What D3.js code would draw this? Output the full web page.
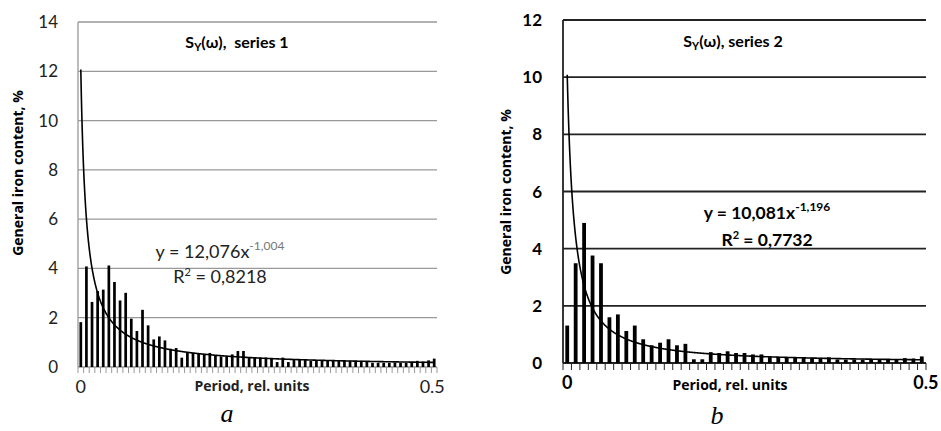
<!DOCTYPE html>
<html>
<head>
<meta charset="utf-8">
<script src="https://cdn.jsdelivr.net/npm/d3@7"></script>
<style>
	body { margin: 0; background: #fff; }
	svg { display: block; }
	text { font-family: Lato, "Open Sans", sans-serif; }
</style>
</head>
<body>
<svg id="chart" width="941" height="431"></svg>
<script>
// series 1 spectrum (64 categories, period 0 .. 0.5)
const series1 = [
	1.82, 4.08, 2.64, 3.08, 3.14, 4.12, 3.45, 2.7, 3.01, 1.96, 1.46, 2.32, 1.69, 1.12, 1.24, 1.08,
	0.74, 0.77, 0.38, 0.57, 0.57, 0.54, 0.51, 0.57, 0.47, 0.43, 0.43, 0.51, 0.65, 0.65, 0.38, 0.38,
	0.38, 0.38, 0.34, 0.2, 0.38, 0.2, 0.3, 0.3, 0.28, 0.25, 0.25, 0.25, 0.25, 0.25, 0.25, 0.25,
	0.25, 0.25, 0.25, 0.22, 0.17, 0.17, 0.17, 0.17, 0.17, 0.17, 0.17, 0.17, 0.25, 0.22, 0.27, 0.34
];
// series 2 spectrum (43 categories)
const series2 = [
	1.31, 3.49, 4.9, 3.76, 3.49, 1.6, 1.7, 1.12, 1.31, 0.83, 0.62, 0.71, 0.83, 0.62, 0.67, 0.13,
	0.13, 0.38, 0.35, 0.41, 0.35, 0.35, 0.3, 0.3, 0.2, 0.2, 0.18, 0.18, 0.2, 0.18, 0.18, 0.2,
	0.12, 0.12, 0.12, 0.12, 0.12, 0.12, 0.12, 0.12, 0.17, 0.16, 0.23
];
// power trendlines y = a * x^b (x = category number)
const trend1 = [12.076, -1.004];
const trend2 = [10.081, -1.196];
const yTicks1 = [0, 2, 4, 6, 8, 10, 12, 14];
const yTicks2 = [0, 2, 4, 6, 8, 10, 12];
const xLabels = ["0", "0.5"];

const svg = d3.select("#chart");

function drawPanel(opt) {
	const g = svg.append("g");
	const n = opt.values.length;

	const xScale = d3.scaleBand()
		.domain(d3.range(n))
		.range([opt.left, opt.right])
		.paddingInner(opt.pad)
		.paddingOuter(opt.pad / 2);
	const step = xScale.step();
	const yScale = d3.scaleLinear()
		.domain([0, d3.max(opt.yTicks)])
		.range([opt.bottom, opt.top]);

	// gridlines
	g.append("g")
		.selectAll("line")
		.data(opt.yTicks.filter((d) => d > 0))
		.join("line")
		.attr("x1", opt.left)
		.attr("x2", opt.right)
		.attr("y1", (d) => yScale(d))
		.attr("y2", (d) => yScale(d))
		.attr("stroke", opt.gridColor)
		.attr("stroke-width", opt.gridWidth);

	// y axis line + labels
	g.append("line")
		.attr("x1", opt.left).attr("x2", opt.left)
		.attr("y1", yScale.range()[0]).attr("y2", yScale.range()[1])
		.attr("stroke", opt.gridColor)
		.attr("stroke-width", opt.gridWidth);
	g.append("g")
		.selectAll("text")
		.data(opt.yTicks)
		.join("text")
		.attr("x", opt.left - opt.labelGap)
		.attr("y", (d) => yScale(d) + 6)
		.attr("text-anchor", "end")
		.style("font-size", opt.tickSize + "px")
		.style("font-weight", opt.tickWeight)
		.attr("fill", opt.textColor)
		.text((d) => d);

	// x axis baseline + category tick marks
	g.append("line")
		.attr("x1", opt.left).attr("x2", opt.right)
		.attr("y1", opt.bottom).attr("y2", opt.bottom)
		.attr("stroke", opt.gridColor)
		.attr("stroke-width", opt.gridWidth);
	g.append("g")
		.selectAll("line")
		.data(d3.range(n + 1))
		.join("line")
		.attr("x1", (i) => opt.left + i * step)
		.attr("x2", (i) => opt.left + i * step)
		.attr("y1", opt.bottom)
		.attr("y2", opt.bottom + opt.tickLen)
		.attr("stroke", opt.gridColor)
		.attr("stroke-width", 1);

	// bars
	g.append("g")
		.selectAll("rect")
		.data(opt.values)
		.join("rect")
		.attr("x", (d, i) => xScale(i))
		.attr("width", xScale.bandwidth())
		.attr("y", (d) => yScale(d))
		.attr("height", (d) => yScale(0) - yScale(d))
		.attr("fill", "#000");

	// power trendline
	const xTrend = d3.scaleLinear()
		.domain([1, n])
		.range([xScale(0) + xScale.bandwidth() / 2, xScale(n - 1) + xScale.bandwidth() / 2]);
	const pts = d3.range(1, n + 0.001, 0.05).map((x) => [x, opt.trend[0] * Math.pow(x, opt.trend[1])]);
	g.append("path")
		.attr("d", d3.line().x((d) => xTrend(d[0])).y((d) => yScale(d[1]))(pts))
		.attr("fill", "none")
		.attr("stroke", "#000")
		.attr("stroke-width", 1.6);

	// first / last category labels
	g.append("g")
		.selectAll("text")
		.data(xLabels)
		.join("text")
		.attr("x", (d, i) => xScale(i === 0 ? 0 : n - 1) + xScale.bandwidth() / 2 + (i === 0 ? 0 : opt.lastShift))
		.attr("y", opt.bottom + 26)
		.attr("text-anchor", "middle")
		.style("font-size", opt.catSize + "px")
		.style("font-weight", opt.tickWeight)
		.attr("fill", opt.textColor)
		.text((d) => d);

	// axis titles
	g.append("text")
		.attr("x", opt.xTitle[0])
		.attr("y", opt.xTitle[1])
		.attr("text-anchor", "middle")
		.style("font-family", "'Open Sans', sans-serif")
		.style("font-size", "14px")
		.style("font-weight", "bold")
		.attr("fill", opt.textColor)
		.text("Period, rel. units");
	g.append("text")
		.attr("transform", `translate(${opt.yTitle[0]}, ${opt.yTitle[1]}) rotate(-90)`)
		.attr("text-anchor", "middle")
		.style("font-family", "'Open Sans', sans-serif")
		.style("font-size", "14px")
		.style("font-weight", "bold")
		.attr("fill", "#000")
		.text("General iron content, %");

	// chart title S_Y(ω)
	const title = g.append("text")
		.attr("x", opt.title[0])
		.attr("y", opt.title[1])
		.attr("text-anchor", "middle")
		.style("font-size", "16px")
		.style("font-weight", "bold")
		.attr("fill", "#000");
	title.append("tspan").text("S");
	title.append("tspan").attr("dy", 3).style("font-size", "11px").text("Y");
	title.append("tspan").attr("dy", -3).style("white-space", "pre").text(opt.titleText);

	// trendline equation
	const eq = g.append("text")
		.attr("x", opt.eq[0])
		.attr("y", opt.eq[1])
		.attr("text-anchor", "middle")
		.style("font-size", opt.eqSize + "px")
		.style("font-weight", opt.eqWeight)
		.attr("fill", opt.textColor);
	eq.append("tspan").text(`y = ${opt.trend[0].toFixed(3).replace(".", ",")}x`);
	eq.append("tspan")
		.attr("dy", -8)
		.style("font-size", "12px")
		.attr("fill", opt.supColor)
		.text(opt.trend[1].toFixed(3).replace(".", ","));
	const r2 = g.append("text")
		.attr("x", opt.eq[0])
		.attr("y", opt.eq[1] + opt.eqGap)
		.attr("text-anchor", "middle")
		.style("font-size", opt.eqSize + "px")
		.style("font-weight", opt.eqWeight)
		.attr("fill", opt.textColor);
	r2.append("tspan").text("R");
	r2.append("tspan").attr("dy", -7).style("font-size", "11px").text("2");
	r2.append("tspan").attr("dy", 7).text(" = " + opt.r2);

	// panel letter
	svg.append("text")
		.attr("x", opt.letter[0])
		.attr("y", opt.letter[1])
		.attr("text-anchor", "middle")
		.style("font-family", "'Liberation Serif', serif")
		.style("font-style", "italic")
		.style("font-size", "26px")
		.attr("fill", "#000")
		.text(opt.letterText);
}

drawPanel({
	values: series1, trend: trend1, r2: "0,8218", yTicks: yTicks1,
	left: 78, right: 437, top: 22, bottom: 367, pad: 0.52,
	gridColor: "#999", gridWidth: 1.3, textColor: "#222", supColor: "#777",
	tickSize: 17, catSize: 18, tickWeight: "normal", labelGap: 20, tickLen: 6, lastShift: -2,
	eqWeight: "normal", eqSize: 18, eq: [220, 258], eqGap: 25,
	xTitle: [252, 391], yTitle: [23, 173],
	title: [237, 48], titleText: "(ω),  series 1",
	letter: [227, 422], letterText: "a"
});

drawPanel({
	values: series2, trend: trend2, r2: "0,7732", yTicks: yTicks2,
	left: 563, right: 926, top: 20, bottom: 363, pad: 0.55,
	gridColor: "#222", gridWidth: 1.8, textColor: "#000", supColor: "#000",
	tickSize: 17, catSize: 18, tickWeight: "bold", labelGap: 21, tickLen: 7, lastShift: 4,
	eqWeight: "bold", eqSize: 17.5, eq: [767, 219], eqGap: 27,
	xTitle: [730, 390], yTitle: [511, 192],
	title: [733, 47], titleText: "(ω), series 2",
	letter: [717, 424], letterText: "b"
});
</script>
</body>
</html>
